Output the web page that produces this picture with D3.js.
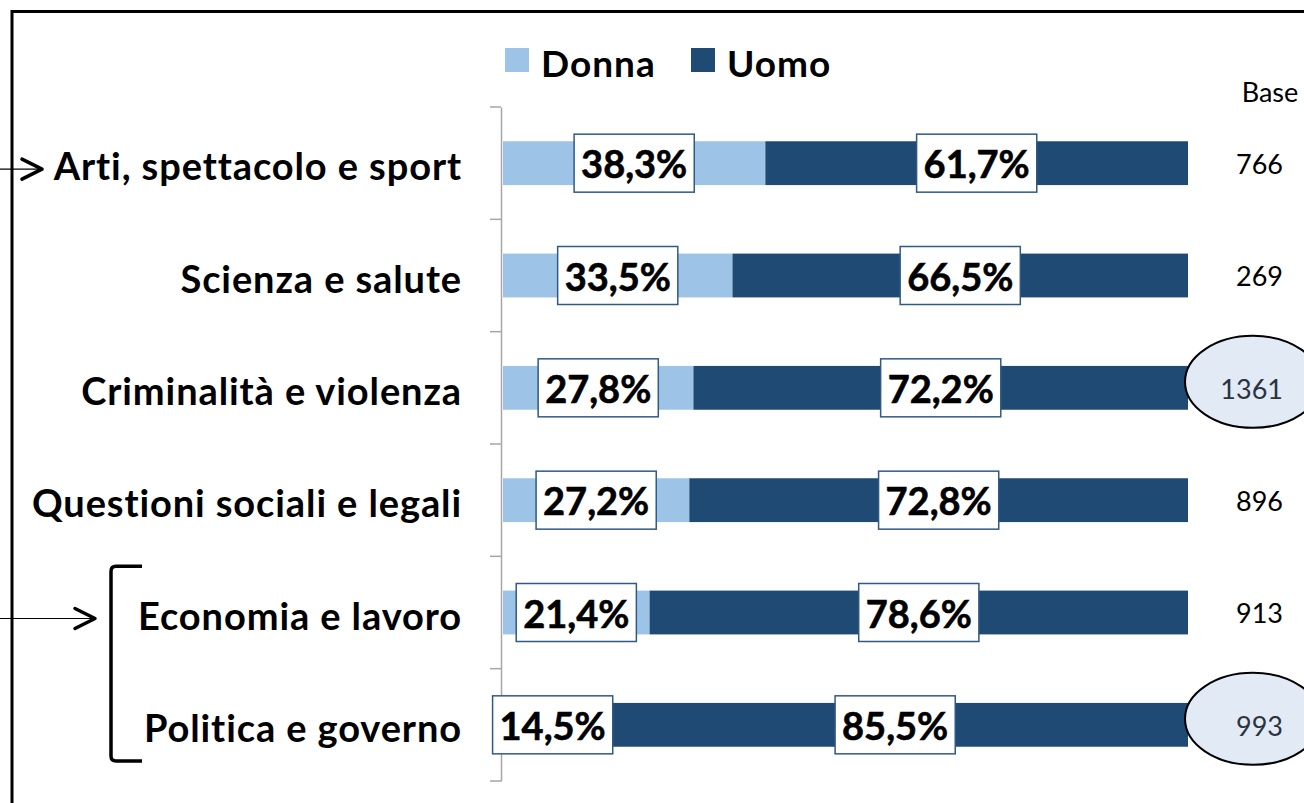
<!DOCTYPE html>
<html>
<head>
<meta charset="utf-8">
<script src="https://cdn.jsdelivr.net/npm/d3@7"></script>
<style>
  html, body { margin: 0; padding: 0; background: #fff; }
  svg { display: block; font-family: Lato, Carlito, "Open Sans", sans-serif; }
</style>
</head>
<body>
<div id="vis"></div>
<script>
// data
var categories = ["Arti, spettacolo e sport", "Scienza e salute", "Criminalità e violenza",
                  "Questioni sociali e legali", "Economia e lavoro", "Politica e governo"];
var donna = [38.3, 33.5, 27.8, 27.2, 21.4, 14.5];
var uomo = [61.7, 66.5, 72.2, 72.8, 78.6, 85.5];
var base = [766, 269, 1361, 896, 913, 993];
var circled = [false, false, true, false, false, true];
var seriesNames = ["Donna", "Uomo"];

var W = 1304, H = 803;
var colors = { Donna: "#9dc3e6", Uomo: "#1f4a73" };

var svg = d3.select("#vis").append("svg")
  .attr("width", W)
  .attr("height", H);

var x = d3.scaleLinear().domain([0, 100]).range([503, 1188]);
var y = d3.scaleBand().domain(categories).range([107, 781]);
var barH = y.step() * 0.39;
var fmt = function(v) { return d3.format(".1f")(v).replace(".", ",") + "%"; };

// stacked rows
var rows = categories.map(function(c, i) {
  return { cat: c, Donna: donna[i], Uomo: uomo[i], base: base[i], circled: circled[i] };
});
var stack = d3.stack().keys(seriesNames)(rows);

// axis on the left of the bars, ticks between categories
var axisG = svg.append("g").attr("transform", "translate(501,0)")
  .call(d3.axisLeft(y).tickSize(0).tickFormat(""));
axisG.select(".domain").attr("stroke", "#a6a6a6").attr("stroke-width", 1.5);
var bounds = d3.range(categories.length + 1).map(function(k) { return y.range()[0] + k * y.step(); });
axisG.selectAll("line.bound").data(bounds).enter().append("line")
  .attr("class", "bound")
  .attr("x1", -11).attr("x2", 0)
  .attr("y1", function(d) { return d; }).attr("y2", function(d) { return d; })
  .attr("stroke", "#a6a6a6").attr("stroke-width", 1.5);

// bars
svg.append("g").selectAll("g").data(stack).enter().append("g")
  .attr("fill", function(s) { return colors[s.key]; })
  .selectAll("rect").data(function(s) { return s; }).enter().append("rect")
  .attr("x", function(d) { return x(d[0]); })
  .attr("width", function(d) { return x(d[1]) - x(d[0]); })
  .attr("y", function(d) { return y(d.data.cat) + (y.bandwidth() - barH) / 2; })
  .attr("height", barH);

// boxed value labels
var labels = [];
stack.forEach(function(s) {
  s.forEach(function(d) {
    labels.push({ cx: (x(d[0]) + x(d[1])) / 2, cy: y(d.data.cat) + y.bandwidth() / 2, v: d[1] - d[0] });
  });
});
var lab = svg.append("g").selectAll("g").data(labels).enter().append("g")
  .attr("transform", function(d) { return "translate(" + d.cx + "," + d.cy + ")"; });
lab.append("rect")
  .attr("fill", "#fff")
  .attr("stroke", "#2f5a87")
  .attr("stroke-width", 1.5);
lab.append("text")
  .attr("text-anchor", "middle")
  .attr("dy", "0.4em")
  .attr("font-size", 38)
  .attr("font-weight", "bold")
  .attr("stroke", "#000").attr("stroke-width", 0.6)
  .attr("fill", "#000")
  .text(function(d) { return fmt(d.v); })
  .each(function() {
    var w = this.getComputedTextLength();
    d3.select(this.parentNode).select("rect")
      .attr("x", -w / 2 - 7).attr("width", w + 14)
      .attr("y", -29).attr("height", 58);
  });

// category labels
svg.append("g").selectAll("text").data(categories).enter().append("text")
  .attr("x", 462)
  .attr("y", function(c) { return y(c) + y.bandwidth() / 2; })
  .attr("dy", "0.45em")
  .attr("text-anchor", "end")
  .attr("font-size", 38)
  .attr("letter-spacing", 0.9)
  .attr("font-weight", "bold")
  .attr("fill", "#000")
  .text(function(c) { return c; });

// base column
var baseG = svg.append("g");
baseG.append("text")
  .attr("x", 1270).attr("y", 102)
  .attr("text-anchor", "middle")
  .attr("font-size", 27)
  .text("Base");
baseG.selectAll("ellipse").data(rows.filter(function(r) { return r.circled; })).enter().append("ellipse")
  .attr("cx", 1253)
  .attr("cy", function(r) { return y(r.cat) + y.bandwidth() / 2 - 6; })
  .attr("rx", 68).attr("ry", 46)
  .attr("fill", "#e2eaf6")
  .attr("stroke", "#000")
  .attr("stroke-width", 2);
baseG.selectAll("text.val").data(rows).enter().append("text")
  .attr("class", "val")
  .attr("x", 1283)
  .attr("y", function(r) { return y(r.cat) + y.bandwidth() / 2; })
  .attr("dy", "0.4em")
  .attr("text-anchor", "end")
  .attr("font-size", 27)
  .attr("fill", function(r) { return r.circled ? "#2a3340" : "#000"; })
  .text(function(r) { return r.base; });

// legend
var leg = svg.append("g").selectAll("g").data(seriesNames).enter().append("g")
  .attr("transform", function(d, i) { return "translate(" + (505 + i * 186) + ",48)"; });
leg.append("rect").attr("width", 24).attr("height", 24)
  .attr("fill", function(d) { return colors[d]; });
leg.append("text")
  .attr("x", 36).attr("y", 16).attr("dy", "0.36em")
  .attr("font-size", 37).attr("letter-spacing", 1).attr("font-weight", "bold")
  .text(function(d) { return d; });

// frame, arrows and bracket
var ink = svg.append("g").attr("fill", "none").attr("stroke", "#000");
ink.append("path").attr("d", "M12,803V11.5H1304").attr("stroke-width", 3);
var arrowRows = [categories[0], categories[4]];
var arrowEnds = [42, 95];
arrowRows.forEach(function(c, i) {
  var cy = y(c) + y.bandwidth() / 2 + 6;
  var ex = arrowEnds[i];
  ink.append("line").attr("x1", 0).attr("x2", ex).attr("y1", cy).attr("y2", cy).attr("stroke-width", 1.2);
  ink.append("path").attr("d", "M" + (ex - 20) + "," + (cy - 10) + "L" + ex + "," + cy + "L" + (ex - 20) + "," + (cy + 10))
    .attr("stroke-width", 3.5).attr("stroke-linecap", "round").attr("stroke-linejoin", "round");
});
var bTop = y(categories[4]) + 10, bBot = y(categories[5]) + y.bandwidth() - 20;
ink.append("path")
  .attr("d", "M142," + bTop + "H116Q111," + bTop + " 111," + (bTop + 5) + "V" + (bBot - 5) + "Q111," + bBot + " 116," + bBot + "H142")
  .attr("stroke-width", 3.5);
</script>
</body>
</html>
